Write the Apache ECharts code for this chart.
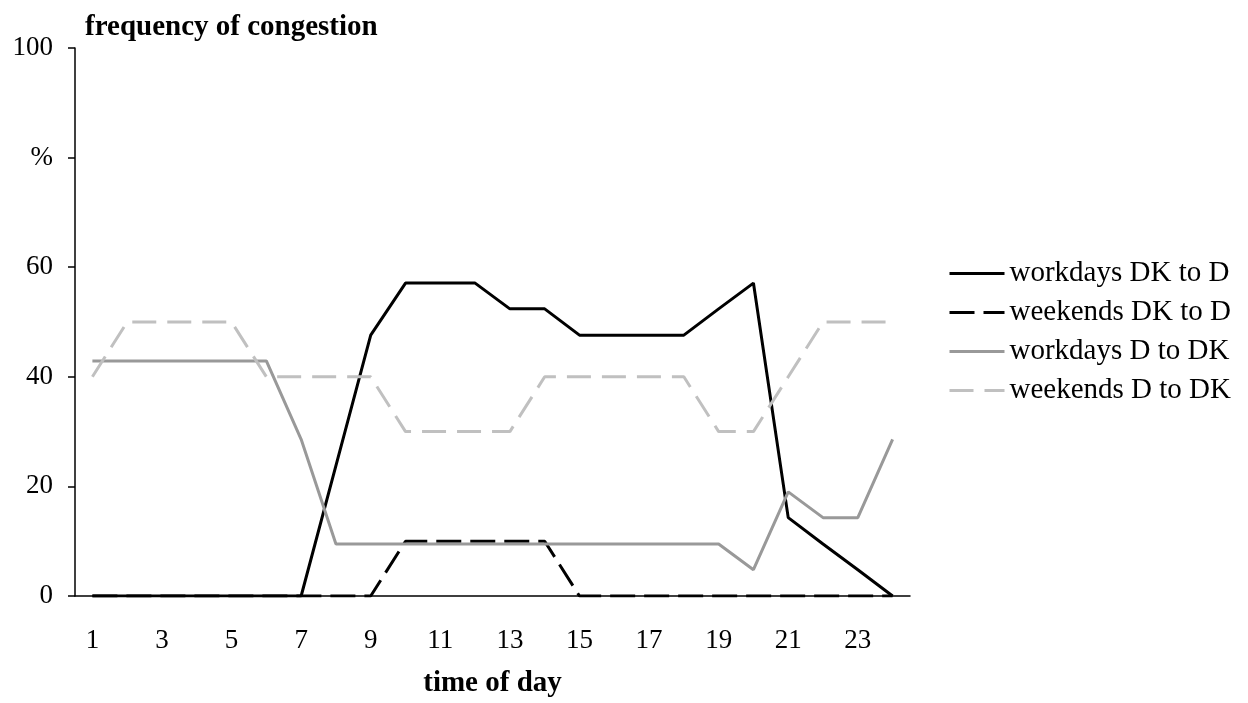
<!DOCTYPE html>
<html><head><meta charset="utf-8">
<script src="https://cdn.jsdelivr.net/npm/echarts@6/dist/echarts.min.js"></script>
<style>html,body{margin:0;padding:0;background:#fff}#c{width:1248px;height:703px}</style>
</head><body><div id="c"></div>
<script>
const hours = ['1','2','3','4','5','6','7','8','9','10','11','12','13','14','15','16','17','18','19','20','21','22','23','24'];
const workdaysDKtoD = [0,0,0,0,0,0,0,23.8,47.6,57.1,57.1,57.1,52.4,52.4,47.6,47.6,47.6,47.6,52.4,57.1,14.3,9.5,4.8,0];
const weekendsDKtoD = [0,0,0,0,0,0,0,0,0,10,10,10,10,10,0,0,0,0,0,0,0,0,0,0];
const workdaysDtoDK = [42.9,42.9,42.9,42.9,42.9,42.9,28.6,9.5,9.5,9.5,9.5,9.5,9.5,9.5,9.5,9.5,9.5,9.5,9.5,4.8,19,14.3,14.3,28.6];
const weekendsDtoDK = [40,50,50,50,50,40,40,40,40,30,30,30,30,40,40,40,40,40,30,30,40,50,50,50];
const seriesNames = ['workdays DK to D','weekends DK to D','workdays D to DK','weekends D to DK'];

const font = 'Liberation Serif, Times New Roman, serif';
const chart = echarts.init(document.getElementById('c'));
function mk(name, data, color, type){
  return {name, type:'line', data, symbol:'none', showSymbol:false, animation:false,
    lineStyle:{color, width:3, type}, itemStyle:{color}};
}
chart.setOption({
  animation:false,
  textStyle:{fontFamily:font},
  grid:{left:75, right:338, top:48, bottom:107},
  legend:{
    orient:'vertical', left:943, top:254, itemWidth:55, itemHeight:14, itemGap:10,
    itemStyle:{opacity:0},
    lineStyle:{width:3},
    textStyle:{fontFamily:font, fontSize:29, color:'#000'},
    data:seriesNames
  },
  xAxis:{
    type:'category', data:hours, boundaryGap:true,
    axisLine:{lineStyle:{color:'#000', width:1.5}},
    axisTick:{interval:0, length:8, inside:false, lineStyle:{color:'#000', width:1.5}},
    axisLabel:{interval:1, margin:31, fontFamily:font, fontSize:27, color:'#000'},
    name:'time of day', nameLocation:'middle', nameGap:73, nameMoveOverlap:false,
    nameTextStyle:{fontFamily:font, fontSize:29, fontWeight:'bold', color:'#000'}
  },
  yAxis:{
    type:'value', min:0, max:100, interval:20,
    axisLine:{show:true, lineStyle:{color:'#000', width:1.5}},
    axisTick:{show:true, length:7, lineStyle:{color:'#000', width:1.5}},
    splitLine:{show:false},
    axisLabel:{margin:22, fontFamily:font, fontSize:27, color:'#000',
      formatter:v => v===80 ? '%' : String(v)},
    name:'frequency of congestion', nameLocation:'end', nameGap:6,
    nameTextStyle:{fontFamily:font, fontSize:29, fontWeight:'bold', color:'#000', align:'left', padding:[0,0,0,10]}
  },
  series:[
    mk(seriesNames[0], workdaysDKtoD, '#000000', 'solid'),
    mk(seriesNames[1], weekendsDKtoD, '#000000', [25,9]),
    mk(seriesNames[2], workdaysDtoDK, '#999999', 'solid'),
    mk(seriesNames[3], weekendsDtoDK, '#c0c0c0', [24,11])
  ]
});
</script></body></html>
